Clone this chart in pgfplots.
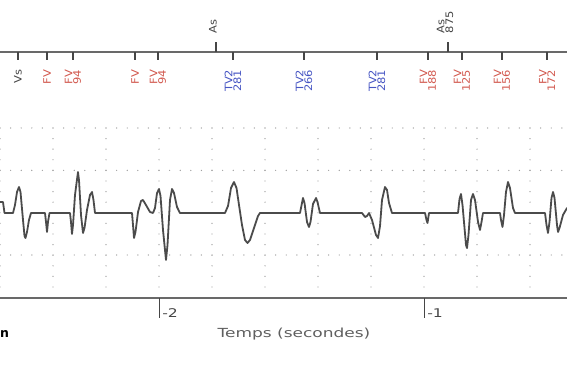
\documentclass[border=0pt]{standalone}
\usepackage{pgfplots}
\pgfplotsset{compat=1.18}
\usepackage{fontspec}
\setmainfont{DejaVu Sans}
\definecolor{fvred}{RGB}{210,90,80}
\definecolor{tvblue}{RGB}{70,85,195}
\definecolor{txtgray}{RGB}{70,70,70}
\definecolor{labgray}{RGB}{95,95,95}
\definecolor{gridc}{RGB}{160,160,160}
\definecolor{sigc}{RGB}{75,75,75}
\definecolor{axc}{RGB}{105,105,105}
\tikzset{
  lab/.style={rotate=90, anchor=east, align=right, inner sep=0.5pt,
    font=\fontsize{11.5}{8.2}\selectfont, yscale=0.9},
  labup/.style={rotate=90, anchor=west, align=left, inner sep=0.5pt,
    font=\fontsize{11.5}{8.2}\selectfont, yscale=0.9},
}
\begin{document}
\begin{tikzpicture}
\begin{axis}[
  scale only axis, width=567pt, height=375pt,
  xmin=-2.6, xmax=-0.460377, ymin=0, ymax=375,
  hide axis, clip=false, unbounded coords=jump,
]
\coordinate (SW) at (rel axis cs:0,0);
\coordinate (NE) at (rel axis cs:1,1);
% dotted grid rows
\addplot[gridc, line width=1.4pt, line cap=round, dash pattern=on 0pt off 10.6pt] coordinates {
(-2.6,247) (-0.460377,247) (-2.6,nan)
(-2.6,204.6) (-0.460377,204.6) (-2.6,nan)
(-2.6,120) (-0.460377,120)
};
% dotted grid columns
\addplot[gridc, line width=1.4pt, line cap=round, dash pattern=on 0pt off 10.6pt] coordinates {
(-2.6,247) (-2.6,80) (-2.6,nan)
(-2.4,247) (-2.4,80) (-2.4,nan)
(-2.2,247) (-2.2,80) (-2.2,nan)
(-2.0,247) (-2.0,80) (-2.0,nan)
(-1.8,247) (-1.8,80) (-1.8,nan)
(-1.6,247) (-1.6,80) (-1.6,nan)
(-1.4,247) (-1.4,80) (-1.4,nan)
(-1.2,247) (-1.2,80) (-1.2,nan)
(-1.0,247) (-1.0,80) (-1.0,nan)
(-0.8,247) (-0.8,80) (-0.8,nan)
(-0.6,247) (-0.6,80)
};
% signal (time in s, amplitude in display units, baseline 162)
\addplot[sigc, line width=1.8pt, line join=round, line cap=round] coordinates {
(-2.6000,173) (-2.5887,173) (-2.5830,162) (-2.5509,162)
(-2.5434,170) (-2.5358,183) (-2.5283,188) (-2.5226,183)
(-2.5132,155) (-2.5075,139) (-2.5038,137) (-2.4981,143) (-2.4906,155) (-2.4830,162)
(-2.4302,162) (-2.4264,153) (-2.4226,143) (-2.4189,153) (-2.4132,162)
(-2.3358,162) (-2.3321,153) (-2.3283,141) (-2.3245,150) (-2.3170,180) (-2.3057,203)
(-2.3019,195) (-2.2943,160) (-2.2868,142) (-2.2811,147) (-2.2717,165) (-2.2604,180)
(-2.2528,183) (-2.2472,175) (-2.2415,162)
(-2.1019,162) (-2.0981,150) (-2.0943,137) (-2.0887,143) (-2.0792,163) (-2.0679,174)
(-2.0604,175) (-2.0491,170) (-2.0340,163) (-2.0226,162) (-2.0151,167) (-2.0075,182)
(-2.0000,186) (-1.9943,179) (-1.9849,145) (-1.9736,115) (-1.9679,130) (-1.9585,175)
(-1.9509,186) (-1.9434,182) (-1.9321,168) (-1.9208,162)
(-1.7509,162) (-1.7396,169) (-1.7283,187) (-1.7170,193) (-1.7075,187) (-1.6981,170)
(-1.6868,150) (-1.6755,135) (-1.6660,132) (-1.6566,135) (-1.6415,147) (-1.6264,159) (-1.6189,162)
(-1.4679,162) (-1.4604,172) (-1.4566,177) (-1.4509,172) (-1.4415,153) (-1.4340,148)
(-1.4283,153) (-1.4189,171) (-1.4075,177) (-1.4019,173) (-1.3925,162)
(-1.2340,162) (-1.2226,158) (-1.2151,159) (-1.2075,162) (-1.1962,155) (-1.1811,140)
(-1.1736,137) (-1.1660,149) (-1.1585,175) (-1.1472,188) (-1.1396,185) (-1.1321,172) (-1.1208,162)
(-0.9962,162) (-0.9906,155) (-0.9868,152) (-0.9811,162)
(-0.8717,162) (-0.8660,176) (-0.8604,181) (-0.8547,170) (-0.8415,130) (-0.8377,127)
(-0.8321,140) (-0.8226,175) (-0.8151,181) (-0.8075,175) (-0.7962,153) (-0.7887,145)
(-0.7830,153) (-0.7774,162)
(-0.7132,162) (-0.7094,155) (-0.7038,148) (-0.6981,160) (-0.6906,183) (-0.6830,193)
(-0.6755,187) (-0.6642,167) (-0.6566,162)
(-0.5434,162) (-0.5377,150) (-0.5321,142) (-0.5264,153) (-0.5189,177) (-0.5132,183)
(-0.5075,177) (-0.4981,150) (-0.4943,143) (-0.4887,147) (-0.4755,160) (-0.4604,167)
};
% bottom time axis
\addplot[axc, line width=1.2pt] coordinates {(-2.6,77) (-0.460377,77)};
\addplot[txtgray, line width=1pt] coordinates {(-2,77) (-2,57) (-2,nan) (-1,77) (-1,57)};
% top marker channel
\addplot[axc, line width=1.2pt] coordinates {(-2.6,323) (-0.460377,323)};
\addplot[txtgray, line width=1.2pt] coordinates {
(-2.5321,323) (-2.5321,315) (-2.5,nan)
(-2.4226,323) (-2.4226,315) (-2.4,nan)
(-2.3245,323) (-2.3245,315) (-2.3,nan)
(-2.0906,323) (-2.0906,315) (-2.0,nan)
(-2.0038,323) (-2.0038,315) (-2.0,nan)
(-1.7208,323) (-1.7208,315) (-1.7,nan)
(-1.4528,323) (-1.4528,315) (-1.4,nan)
(-1.1774,323) (-1.1774,315) (-1.1,nan)
(-0.9849,323) (-0.9849,315) (-0.9,nan)
(-0.8566,323) (-0.8566,315) (-0.8,nan)
(-0.7057,323) (-0.7057,315) (-0.7,nan)
(-0.5358,323) (-0.5358,315) (-0.5,nan)
(-1.7849,323) (-1.7849,333) (-1.7,nan)
(-0.9094,323) (-0.9094,333)
};
% marker labels
\node[lab, txtgray] at (axis cs:-2.5321,306) {Vs};
\node[lab, fvred] at (axis cs:-2.4226,306) {FV};
\node[lab, fvred] at (axis cs:-2.3245,306) {FV\\94};
\node[lab, fvred] at (axis cs:-2.0906,306) {FV};
\node[lab, fvred] at (axis cs:-2.0038,306) {FV\\94};
\node[lab, tvblue] at (axis cs:-1.7208,306) {TV2\\281};
\node[lab, tvblue] at (axis cs:-1.4528,306) {TV2\\266};
\node[lab, tvblue] at (axis cs:-1.1774,306) {TV2\\281};
\node[lab, fvred] at (axis cs:-0.9849,306) {FV\\188};
\node[lab, fvred] at (axis cs:-0.8566,306) {FV\\125};
\node[lab, fvred] at (axis cs:-0.7057,306) {FV\\156};
\node[lab, fvred] at (axis cs:-0.5358,306) {FV\\172};
\node[labup, txtgray] at (axis cs:-1.7962,341) {As};
\node[labup, txtgray] at (axis cs:-0.9207,341) {As\\875};
% time labels
\node[anchor=base west, inner sep=0pt, txtgray, xscale=1.3, font=\fontsize{12}{14}\selectfont] at (axis cs:-1.9887,58) {-2};
\node[anchor=base west, inner sep=0pt, txtgray, xscale=1.3, font=\fontsize{12}{14}\selectfont] at (axis cs:-0.9887,58) {-1};
\node[anchor=base, inner sep=0pt, labgray, xscale=1.36, font=\fontsize{12.5}{15}\selectfont] at (axis cs:-1.4906,38) {Temps (secondes)};
\node[anchor=base west, inner sep=0pt, black, font=\fontsize{12.5}{15}\selectfont\bfseries] at (axis cs:-2.6,38) {n};
\end{axis}
\pgfresetboundingbox
\path[use as bounding box] (SW) rectangle (NE);
\end{tikzpicture}
\end{document}
